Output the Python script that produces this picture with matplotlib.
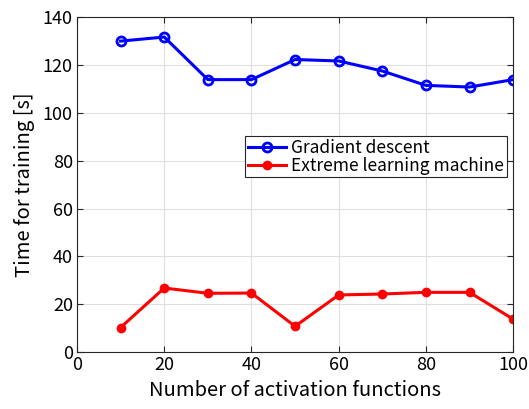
import matplotlib
matplotlib.use("Agg")
import matplotlib.pyplot as plt

plt.rcParams['font.family'] = ['Noto Sans CJK JP', 'DejaVu Sans']

n_funcs = [10, 20, 30, 40, 50, 60, 70, 80, 90, 100]
gd_time = [130.0, 131.7, 113.9, 113.9, 122.3, 121.7, 117.5, 111.5, 110.8, 113.9]
elm_time = [10.3, 26.8, 24.6, 24.7, 10.8, 23.9, 24.3, 25.0, 25.0, 13.8]

fig = plt.figure(figsize=(5.29, 4.09), dpi=100)
ax = fig.add_axes([0.1456, 0.139, 0.8244, 0.819])

ax.plot(n_funcs, gd_time, 'o-', color='#0000ff', lw=2.2, ms=6.5, mfc='none', mew=2,
        label='Gradient descent')
ax.plot(n_funcs, elm_time, 'o-', color='#ff0000', lw=2.2, ms=6,
        label='Extreme learning machine')

ax.set_xlim(0, 100)
ax.set_ylim(0, 140)
ax.set_xticks(range(0, 101, 20))
ax.set_yticks(range(0, 141, 20))
ax.grid(True, color='#dfdfdf', lw=0.8)
ax.tick_params(direction='in', labelsize=13, length=4, top=True, right=True, color='#262626', pad=3)
for s in ax.spines.values():
    s.set_color('#262626')
    s.set_linewidth(0.8)
ax.set_xlabel('Number of activation functions', fontsize=14.5, labelpad=4)
ax.set_ylabel('Time for training [s]', fontsize=14.5, labelpad=6)

leg = ax.legend(loc='upper right', bbox_to_anchor=(0.985, 0.645), fontsize=12.5,
                fancybox=False, edgecolor='#262626', framealpha=1,
                handlelength=2.2, handletextpad=0.3, borderpad=0.15, labelspacing=0.0,
                borderaxespad=0)
leg.get_frame().set_linewidth(0.8)

fig.savefig('out.png', dpi=100)
